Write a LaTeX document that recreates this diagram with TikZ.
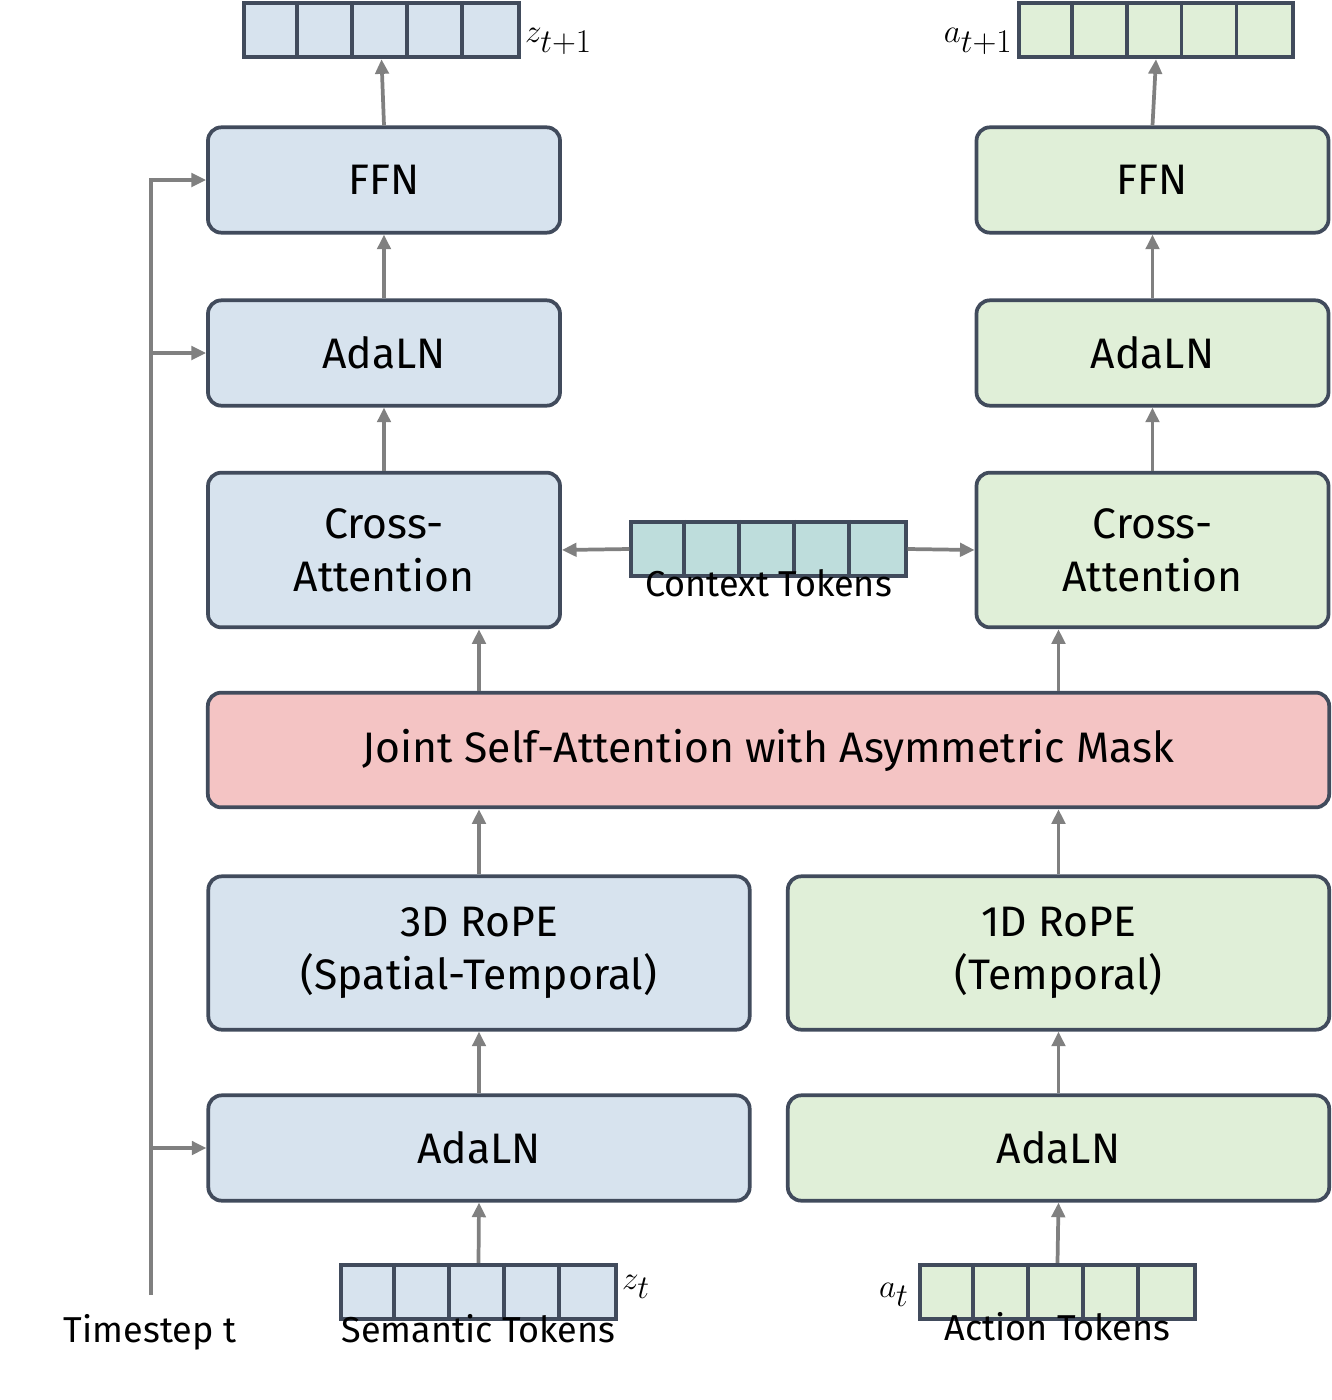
\documentclass[tikz,border=0pt]{standalone}
\usepackage{fontspec}
\setmainfont{Fira Sans}
\usetikzlibrary{arrows.meta}
\definecolor{blueF}{HTML}{D7E3EE}
\definecolor{greenF}{HTML}{E0EFD8}
\definecolor{pinkF}{HTML}{F4C4C4}
\definecolor{tealF}{HTML}{BEDDDC}
\definecolor{edgeC}{HTML}{414B5C}
\definecolor{arrC}{HTML}{808080}

\tikzset{every picture/.style={line width=0.75pt}}
\tikzset{
	blk/.style={draw=edgeC, line width=2.8pt, rounded corners=10pt, align=center, font=\fontsize{32}{40}\selectfont},
	tok/.style={draw=edgeC, line width=2.8pt, minimum width=206pt, minimum height=41pt, inner sep=0pt},
	arr/.style={draw=arrC, line width=2.8pt, -{Triangle[length=11pt,width=10pt]}},
	lbl/.style={font=\fontsize{27}{32}\selectfont, inner sep=0.75pt},
	mlbl/.style={font=\fontsize{36}{40}\selectfont, inner sep=3pt},
}

\begin{document}
\begin{tikzpicture}[x=0.75pt,y=0.75pt,yscale=-1,xscale=1]
	\useasboundingbox (0,0) rectangle (1332,1400);
	
	%Left column
	\node[blk, fill=blueF, minimum width=264pt, minimum height=79pt] (ffnL) at (384,180) {FFN};
	\node[blk, fill=blueF, minimum width=264pt, minimum height=79pt] (adaL) at (384,353) {AdaLN};
	\node[blk, fill=blueF, minimum width=264pt, minimum height=116pt] (crossL) at (384,550) {Cross-\\Attention};
	%Right column
	\node[blk, fill=greenF, minimum width=264pt, minimum height=79pt] (ffnR) at (1152.5,180) {FFN};
	\node[blk, fill=greenF, minimum width=264pt, minimum height=79pt] (adaR) at (1152.5,353) {AdaLN};
	\node[blk, fill=greenF, minimum width=264pt, minimum height=116pt] (crossR) at (1152.5,550) {Cross-\\Attention};
	%Joint
	\node[blk, fill=pinkF, minimum width=841pt, minimum height=86pt] (joint) at (768.5,750) {Joint Self-Attention with Asymmetric Mask};
	%Lower blocks
	\node[blk, fill=blueF, minimum width=406pt, minimum height=115pt] (ropeL) at (479,953) {3D RoPE\\(Spatial-Temporal)};
	\node[blk, fill=greenF, minimum width=406pt, minimum height=115pt] (ropeR) at (1058.5,953) {1D RoPE\\(Temporal)};
	\node[blk, fill=blueF, minimum width=406pt, minimum height=79pt] (adaBL) at (479,1148) {AdaLN};
	\node[blk, fill=greenF, minimum width=406pt, minimum height=79pt] (adaBR) at (1058.5,1148) {AdaLN};
	
	%Tokens
	\node[tok, fill=blueF] (ztop) at (381.5,30) {};
	\node[tok, fill=greenF] (atop) at (1156,30) {};
	\node[tok, fill=tealF] (ctx) at (768.5,549) {};
	\node[tok, fill=blueF] (zbot) at (478.5,1292) {};
	\node[tok, fill=greenF] (abot) at (1057.5,1292) {};
	\foreach \t in {ztop,atop,ctx,zbot,abot}
		\foreach \i in {1,...,4}
			\draw[draw=edgeC, line width=2.8pt] ([xshift=\i*41.2pt]\t.north west) -- ([xshift=\i*41.2pt]\t.south west);
	
	%Labels
	\node[mlbl, anchor=south west] (zlab) at (ztop.south east) {$z_{t+1}$};
	\node[mlbl, anchor=south east] (alab) at (atop.south west) {$a_{t+1}$};
	\node[lbl, anchor=north] (ctxlab) at ([yshift=-8pt]ctx.south) {Context Tokens};
	\node[mlbl, anchor=west] (ztlab) at ([yshift=-4pt]zbot.east) {$z_t$};
	\node[mlbl, anchor=east] (atlab) at ([xshift=-4pt,yshift=2pt]abot.west) {$a_t$};
	\node[lbl, anchor=north] (semlab) at ([yshift=-6pt]zbot.south) {Semantic Tokens};
	\node[lbl, anchor=north] (actlab) at ([yshift=-8pt]abot.south) {Action Tokens};
	\node[lbl] (tslab) at (150,1332) {Timestep t};
	
	%Arrows
	\draw[arr] (zbot.north) -- (adaBL.south);
	\draw[arr] (abot.north) -- (adaBR.south);
	\draw[arr] (adaBL.north) -- (ropeL.south);
	\draw[arr] (adaBR.north) -- (ropeR.south);
	\draw[arr] (ropeL.north) -- (ropeL.north |- joint.south);
	\draw[arr] (ropeR.north) -- (ropeR.north |- joint.south);
	\draw[arr] (ropeL.north |- joint.north) -- (ropeL.north |- crossL.south);
	\draw[arr] (ropeR.north |- joint.north) -- (ropeR.north |- crossR.south);
	\draw[arr] (ctx.west) -- (crossL.east);
	\draw[arr] (ctx.east) -- (crossR.west);
	\draw[arr] (crossL.north) -- (adaL.south);
	\draw[arr] (adaL.north) -- (ffnL.south);
	\draw[arr] (ffnL.north) -- (ztop.south);
	\draw[arr] (crossR.north) -- (adaR.south);
	\draw[arr] (adaR.north) -- (ffnR.south);
	\draw[arr] (ffnR.north) -- (atop.south);
	
	%Timestep line
	\coordinate (ts) at (151,1295);
	\draw[draw=arrC, line width=2.8pt] (ts) -- (ts |- ffnL.west);
	\draw[arr] ([xshift=-1.4pt]ts |- ffnL.west) -- (ffnL.west);
	\draw[arr] (ts |- adaL.west) -- (adaL.west);
	\draw[arr] (ts |- adaBL.west) -- (adaBL.west);
	
\end{tikzpicture}
\end{document}
